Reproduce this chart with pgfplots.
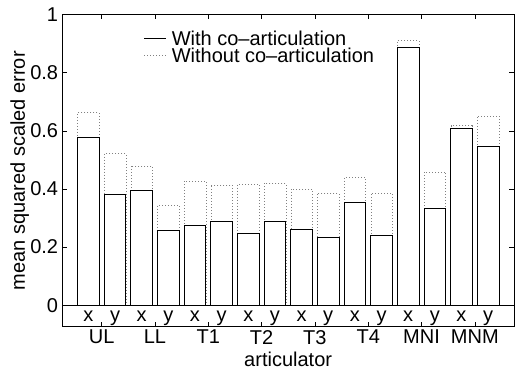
\documentclass[border=0pt]{standalone}
\usepackage{fontspec}
\setmainfont{Liberation Sans}
\usepackage{pgfplots}
\pgfplotsset{compat=1.18}
\begin{document}
\begin{tikzpicture}[font=\fontsize{20bp}{24bp}\selectfont]
\begin{axis}[
  at={(0,0)}, anchor=south west,
  scale only axis, width=451.7bp, height=312bp,
  xmin=0.261, xmax=8.735, ymin=-0.074, ymax=1,
  xtick={1,2,3,4,5,6,7,8},
  xticklabels={UL,LL,T1,T2,T3,T4,MNI,MNM},
  ytick={0,0.2,0.4,0.6,0.8,1},
  /pgf/number format/assume math mode=true,
  tick align=inside, major tick length=4.5bp,
  tick style={black, line width=0.6bp},
  axis line style={black, line width=0.8bp},
  yticklabel style={inner sep=0pt, xshift=-4bp},
  xlabel={articulator},
  xlabel style={at={(rel axis cs:0.5,0)}, anchor=base, yshift=-39.5bp},
  ylabel={mean squared scaled error},
  ylabel style={at={(rel axis cs:0,0.5)}, anchor=base, rotate=0, yshift=37.3bp},
  legend image code/.code={\draw[#1] (0bp,0bp) -- (22bp,0bp);},
  legend style={draw=none, fill=none, at={(axis cs:1.793,0.944)}, anchor=north west,
    inner sep=0pt, row sep=2bp, column sep=5bp,
    nodes={inner sep=0pt, text depth=0pt}},
  legend cell align=left,
]
\addplot[ybar, bar width=0.405, bar shift=0pt, draw=gray, dash pattern=on 1bp off 2bp, fill=none, forget plot]
coordinates {(0.75,0.663) (1.25,0.522) (1.75,0.480) (2.25,0.345) (2.75,0.428) (3.25,0.414)
 (3.75,0.417) (4.25,0.420) (4.75,0.400) (5.25,0.385) (5.75,0.439) (6.25,0.385)
 (6.75,0.911) (7.25,0.459) (7.75,0.618) (8.25,0.652)};
\addplot[ybar, bar width=0.405, bar shift=0pt, draw=black, line width=0.8bp, fill=white, forget plot]
coordinates {(0.75,0.577) (1.25,0.383) (1.75,0.396) (2.25,0.259) (2.75,0.275) (3.25,0.287)
 (3.75,0.246) (4.25,0.289) (4.75,0.260) (5.25,0.234) (5.75,0.353) (6.25,0.241)
 (6.75,0.888) (7.25,0.332) (7.75,0.607) (8.25,0.545)};
\draw[black, line width=0.8bp] (axis cs:0.261,0) -- (axis cs:8.735,0);
\pgfplotsinvokeforeach{0.75,1.75,2.75,3.75,4.75,5.75,6.75,7.75}{
  \node[anchor=base, inner sep=0pt] at (axis cs:#1,-0.056) {x};
}
\pgfplotsinvokeforeach{1.25,2.25,3.25,4.25,5.25,6.25,7.25,8.25}{
  \node[anchor=base, inner sep=0pt] at (axis cs:#1,-0.056) {y};
}
\addlegendimage{black, line width=0.6bp}
\addlegendentry{With co--articulation}
\addlegendimage{gray, dash pattern=on 1bp off 2bp}
\addlegendentry{Without co--articulation}
\end{axis}
\pgfresetboundingbox
\path (-62.3bp,-43.3bp) rectangle (452.7bp,326.7bp);
\end{tikzpicture}
\end{document}
